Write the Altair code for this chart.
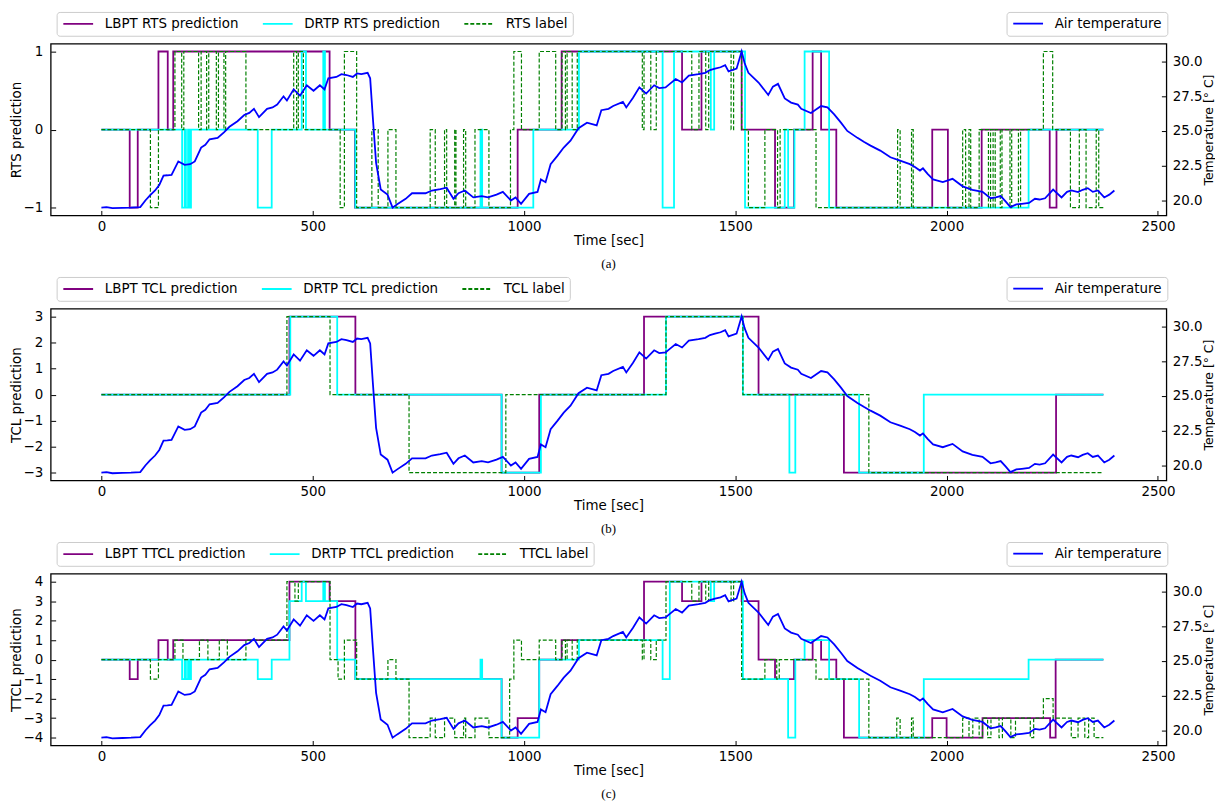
import altair as alt
import pandas as pd

# ---------------- data ----------------
temp_t = [0, 12, 26, 50, 70, 92, 104, 115, 127, 137, 147, 156, 166, 182, 197, 210, 221, 236, 246, 256,
          275, 290, 303, 322, 338, 350, 361, 373, 392, 405, 416, 431, 439, 455, 470, 486, 502, 517, 528, 537,
          556, 568, 580, 595, 605, 615, 630, 636, 642, 650, 661, 677, 689, 700, 720, 735, 750, 767, 782, 802,
          817, 833, 845, 860, 880, 900, 915, 935, 950, 969, 980, 993, 1012, 1032, 1040, 1051, 1063, 1079, 1094, 1110,
          1129, 1149, 1172, 1183, 1200, 1211, 1234, 1242, 1258, 1273, 1289, 1308, 1320, 1335, 1345, 1359, 1374, 1390, 1413, 1429,
          1440, 1452, 1465, 1476, 1484, 1503, 1515, 1522, 1531, 1555, 1578, 1589, 1601, 1617, 1632, 1648, 1656, 1679, 1703, 1718,
          1734, 1750, 1765, 1789, 1805, 1820, 1843, 1867, 1890, 1913, 1925, 1937, 1944, 1955, 1968, 1991, 2014, 2038, 2061, 2085,
          2104, 2116, 2128, 2140, 2151, 2165, 2178, 2195, 2209, 2220, 2233, 2252, 2272, 2285, 2295, 2311, 2322, 2334, 2346, 2358,
          2373, 2385, 2397]
temp_v = [19.47, 19.5, 19.42, 19.44, 19.46, 19.5, 19.98, 20.35, 20.7, 21.1, 21.78, 21.8, 21.83, 22.8, 22.55, 22.6, 22.8, 23.8, 24.0, 24.4,
          24.5, 24.9, 25.3, 25.7, 26.15, 26.3, 26.6, 26.0, 26.6, 26.7, 26.9, 27.5, 27.2, 28.0, 27.55, 28.3, 27.9, 28.3, 28.0, 28.8,
          28.9, 29.1, 29.04, 28.9, 29.15, 29.1, 29.2, 28.8, 26.1, 22.7, 20.77, 20.4, 19.46, 19.7, 20.1, 20.5, 20.5, 20.5, 20.7, 20.8,
          20.9, 20.1, 20.5, 20.7, 20.2, 20.3, 20.2, 20.4, 20.6, 19.98, 20.2, 19.74, 20.46, 20.6, 21.5, 21.3, 22.6, 23.2, 23.8, 24.3,
          25.2, 25.6, 25.4, 26.5, 26.6, 26.8, 27.1, 26.7, 27.4, 28.15, 27.7, 28.3, 28.1, 28.15, 28.4, 28.75, 28.5, 29.0, 29.1, 29.2,
          29.4, 29.5, 29.6, 29.75, 29.3, 29.5, 30.74, 29.9, 29.2, 28.5, 27.6, 28.2, 28.4, 27.35, 27.05, 26.9, 26.6, 26.3, 26.8, 26.7,
          26.2, 25.6, 25.0, 24.5, 24.2, 23.94, 23.58, 23.1, 22.86, 22.6, 22.4, 22.14, 22.3, 21.9, 21.5, 21.3, 21.54, 21.0, 20.75, 20.6,
          20.14, 20.2, 20.3, 19.9, 19.5, 19.7, 19.74, 19.8, 20.1, 20.05, 20.14, 20.77, 20.2, 20.6, 20.7, 20.58, 20.75, 20.87, 20.6, 20.7,
          20.2, 20.4, 20.7]

# Panel (a) RTS
rts_lbpt_t = [0, 67, 86, 135, 157, 170, 540, 600, 985, 1089, 1374, 1420, 1515, 1594, 1639, 1683, 1703, 1739, 1966, 2003, 2083, 2244, 2260, 2371]
rts_lbpt_v = [0, -1, 0, 1, 0, 1, 0, -1, 0, 1, 0, 1, 0, -1, 0, 1, 0, -1, 0, -1, 0, -1, 0, 0]
rts_drtp_t = [0, 191, 197, 200, 205, 208, 212, 370, 403, 474, 484, 525, 529, 601, 897, 901, 1022, 1130, 1328, 1355,
              1442, 1450, 1523, 1617, 1625, 1640, 1664, 1722, 2194, 2371]
rts_drtp_v = [0, -1, 0, -1, 0, -1, 0, -1, 0, 1, 0, 1, 0, -1, 0, -1, 0, 1, -1, 1,
              0, 1, -1, 0, -1, 0, 1, -1, 0, 0]
rts_label_t = [0, 116, 135, 174, 190, 195, 230, 236, 249, 254, 272, 277, 290, 294, 342, 455, 462, 466, 478, 565,
               575, 604, 640, 655, 678, 697, 778, 790, 812, 817, 836, 839, 857, 862, 884, 917, 968, 976, 994, 1036,
               1075, 1090, 1098, 1102, 1114, 1126, 1280, 1284, 1300, 1313, 1397, 1414, 1430, 1437, 1490, 1496, 1515, 1531, 1570, 1600,
               1606, 1691, 1884, 1890, 1917, 1921, 2038, 2045, 2053, 2057, 2077, 2099, 2104, 2110, 2115, 2127, 2131, 2150, 2154, 2170,
               2175, 2229, 2251, 2293, 2314, 2330, 2354, 2360, 2371]
rts_label_v = [0, -1, 0, 1, 0, 1, 0, 1, 0, 1, 0, 1, 0, 1, 0, 1, 0, 1, 0, -1,
               1, -1, 0, -1, 0, -1, 0, -1, 0, -1, 0, -1, 0, -1, 0, -1, 0, 1, 0, 1,
               0, 1, 0, 1, 0, 1, 0, 1, 0, 1, 0, 1, 0, 1, 0, 1, 0, -1, 0, -1,
               0, -1, 0, -1, 0, -1, 0, -1, 0, -1, 0, -1, 0, -1, 0, -1, 0, -1, 0, -1,
               0, 1, 0, -1, 0, -1, 0, -1, -1]

# Panel (b) TCL
tcl_lbpt_t = [0, 445, 601, 947, 1036, 1284, 1555, 1757, 2259, 2371]
tcl_lbpt_v = [0, 3, 0, -3, 0, 3, 0, -3, 0, 0]
tcl_drtp_t = [0, 447, 558, 947, 1040, 1336, 1518, 1628, 1642, 1793, 1946, 2371]
tcl_drtp_v = [0, 3, 0, -3, 0, 3, 0, -3, 0, -3, 0, 0]
tcl_label_t = [0, 439, 541, 728, 957, 1336, 1518, 1816, 2371]
tcl_label_v = [0, 3, 0, -3, 0, 3, 0, -3, -3]

# Panel (c) TTCL
ttcl_lbpt_t = [0, 67, 86, 135, 157, 170, 445, 540, 601, 947, 985, 1036, 1089, 1284, 1374, 1420, 1515, 1555, 1594, 1639,
               1683, 1703, 1739, 1757, 1966, 2000, 2085, 2245, 2258, 2371]
ttcl_lbpt_v = [0, -1, 0, 1, 0, 1, 4, 3, -1, -4, -3, 0, 1, 4, 3, 4, 3, 0, -1, 0,
               1, 0, -1, -4, -3, -4, -3, -4, 0, 0]
ttcl_drtp_t = [0, 191, 197, 200, 205, 208, 212, 370, 403, 445, 474, 484, 525, 529, 558, 601, 897, 901, 947, 1036,
               1130, 1328, 1345, 1442, 1450, 1518, 1625, 1642, 1664, 1722, 1793, 1946, 2194, 2371]
ttcl_drtp_v = [0, -1, 0, -1, 0, -1, 0, -1, 0, 3, 4, 3, 4, 3, 0, -1, 0, -1, -4, 0,
               1, -1, 4, 3, 4, -1, -4, 0, 1, -1, -4, -1, 0, 0]
ttcl_label_t = [0, 116, 135, 174, 193, 232, 252, 279, 298, 342, 439, 458, 466, 541, 560, 575, 604, 678, 697, 728,
                778, 790, 812, 836, 857, 862, 884, 917, 966, 976, 994, 1036, 1075, 1090, 1098, 1102, 1114, 1126, 1280, 1284,
                1300, 1313, 1336, 1397, 1414, 1430, 1437, 1490, 1496, 1515, 1570, 1598, 1604, 1691, 1816, 1882, 1890, 1917, 1921, 2038,
                2053, 2062, 2077, 2085, 2097, 2105, 2124, 2132, 2152, 2163, 2198, 2206, 2229, 2252, 2295, 2311, 2327, 2336, 2349, 2371]
ttcl_label_v = [0, -1, 0, 1, 0, 1, 0, 1, 0, 1, 4, 3, 4, 0, -1, 1, -1, 0, -1, -4,
                -3, -4, -3, -4, -3, -4, -3, -4, -1, 1, 0, 1, 0, 1, 0, 1, 0, 1, 0, 1,
                0, 1, 4, 3, 4, 3, 4, 3, 4, -1, 0, -1, 0, -1, -4, -3, -4, -3, -4, -3,
                -4, -3, -4, -3, -4, -3, -4, -3, -4, -3, -4, -3, -2, -3, -4, -3, -4, -3, -4, -4]

x_ticks = [0, 500, 1000, 1500, 2000, 2500]
temp_ticks = [20.0, 22.5, 25.0, 27.5, 30.0]
series_colors = ["#800080", "#00ffff", "#008000"]
series_dashes = [[1, 0], [1, 0], [4, 2]]
series_widths = [1.8, 1.8, 1.2]

FONT = "DejaVu Sans"
FS = 13.5
W, H = 1124, 173
X_DOMAIN = [-120, 2520]
TEMP_DOMAIN = [18.9, 31.3]


def x_enc():
    return alt.X("t:Q", scale=alt.Scale(domain=X_DOMAIN, nice=False, zero=False),
                 axis=alt.Axis(values=x_ticks, format="d", title="Time [sec]", offset=-5,
                               tickSize=5, labelPadding=4, titlePadding=1))


def panel(kind, series, ylim, caption):
    names = [f"LBPT {kind} prediction", f"DRTP {kind} prediction", f"{kind} label"]
    yticks = list(range(-ylim, ylim + 1))
    leg = alt.Legend(orient="none", legendX=6, legendY=-32, direction="horizontal",
                     columns=3, title=None)
    y_enc = alt.Y("v:Q", scale=alt.Scale(domain=[-ylim * 1.1, ylim * 1.1], nice=False, zero=False),
                  axis=alt.Axis(values=yticks, title=f"{kind} prediction", offset=-5, tickSize=5,
                                labelPadding=8, titlePadding=0,
                                labelExpr="replace(datum.label, '-', '\u2212')"))
    layers = []
    for (ts, vs), name, w in zip(series, names, series_widths):
        df = pd.DataFrame({"t": ts, "v": vs, "series": name})
        layers.append(
            alt.Chart(df).mark_line(interpolate="step-after", strokeWidth=w).encode(
                x=x_enc(), y=y_enc,
                color=alt.Color("series:N", scale=alt.Scale(domain=names, range=series_colors), legend=leg),
                strokeDash=alt.StrokeDash("series:N", scale=alt.Scale(domain=names, range=series_dashes), legend=leg),
            )
        )
    inner = alt.layer(*layers)
    tdf = pd.DataFrame({"t": temp_t, "T": temp_v, "name": "Air temperature"})
    temp = alt.Chart(tdf).mark_line(strokeWidth=1.8).encode(
        x=x_enc(),
        y=alt.Y("T:Q", scale=alt.Scale(domain=TEMP_DOMAIN, nice=False, zero=False),
                axis=alt.Axis(orient="right", values=temp_ticks, format=".1f", title="Temperature [\u00b0 C]",
                              offset=-5, tickSize=5, labelPadding=6, titlePadding=13, titleAngle=270,
                              titleFontSize=12.5)),
        color=alt.Color("name:N", scale=alt.Scale(domain=["Air temperature"], range=["#0000ff"]),
                        legend=alt.Legend(orient="none", legendX=963, legendY=-32, title=None)),
    )
    return alt.layer(inner, temp).resolve_scale(
        y="independent", color="independent", strokeDash="independent"
    ).properties(
        width=W, height=H,
        title=alt.TitleParams(caption, orient="bottom", font="Liberation Serif", fontSize=13,
                              fontWeight="normal", color="black", offset=11, anchor="middle"),
    )


pa = panel("RTS", [(rts_lbpt_t, rts_lbpt_v), (rts_drtp_t, rts_drtp_v), (rts_label_t, rts_label_v)], 1, "(a)")
pb = panel("TCL", [(tcl_lbpt_t, tcl_lbpt_v), (tcl_drtp_t, tcl_drtp_v), (tcl_label_t, tcl_label_v)], 3, "(b)")
pc = panel("TTCL", [(ttcl_lbpt_t, ttcl_lbpt_v), (ttcl_drtp_t, ttcl_drtp_v), (ttcl_label_t, ttcl_label_v)], 4, "(c)")

chart = alt.vconcat(pa, pb, pc, spacing=94, bounds="flush").resolve_scale(
    x="independent", color="independent", strokeDash="independent"
).resolve_axis(x="independent").configure(
    padding={"left": 0, "top": -1, "right": -1, "bottom": 0}, background="white"
).configure_view(
    stroke="black", strokeWidth=1.3
).configure_axis(
    labelFont=FONT, labelFontSize=FS, labelColor="black", titleFont=FONT, titleFontSize=FS,
    titleFontWeight="normal", titleColor="black", grid=False, domain=False, tickColor="black",
    tickWidth=1,
).configure_legend(
    symbolType="M-1,0H5", symbolSize=100, symbolStrokeWidth=1.8, labelFont=FONT, labelFontSize=FS,
    labelColor="black", padding=5, strokeColor="#cccccc", fillColor="white", cornerRadius=3,
    columnPadding=20, labelOffset=30, labelLimit=0,
)

chart.save("out.html", embed_options={"renderer": "svg", "actions": False})
